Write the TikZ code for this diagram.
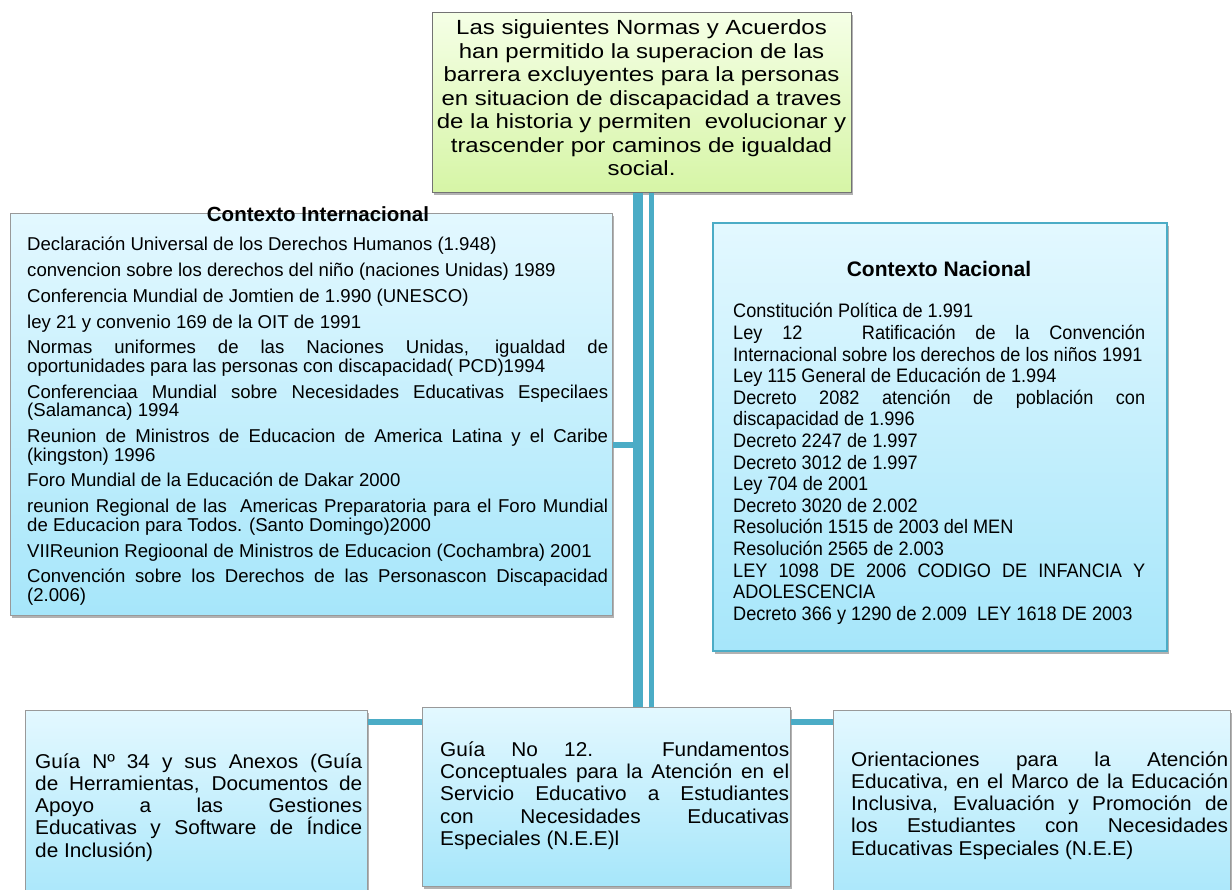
\documentclass[tikz,border=0pt]{standalone}
\usepackage{fontspec}
\setmainfont{Liberation Sans}
\newfontfamily\topfont[FakeStretch=1.17]{Liberation Sans}
\newfontfamily\natfont[FakeStretch=0.93]{Liberation Sans}
\newfontfamily\botfont[FakeStretch=1.04]{Liberation Sans}
\usetikzlibrary{shadows}
\definecolor{connc}{HTML}{4BACC6}
\definecolor{bluetop}{HTML}{E3F8FF}
\definecolor{bluebot}{HTML}{A6E6FA}
\definecolor{greentop}{HTML}{F5FFE6}
\definecolor{greenbot}{HTML}{D6F5A6}
\begin{document}
\begin{tikzpicture}[x=1pt,y=-1pt,
  boxbase/.style={anchor=north west, inner sep=0pt, line width=0.9pt,
    drop shadow={shadow xshift=2pt, shadow yshift=-3pt, opacity=0.3, fill=black}},
  bluebox/.style={boxbase, draw=black!40, top color=bluetop, bottom color=bluebot},
  greenbox/.style={boxbase, draw=black!55, top color=greentop, bottom color=greenbot},
  txt/.style={anchor=base west, inner sep=0pt},
  thickconn/.style={draw=connc, line width=10pt},
  thinconn/.style={draw=connc, line width=5pt},
  hconn/.style={draw=connc, line width=6pt}]
\useasboundingbox (0,0) rectangle (1232,890);
\tolerance=9999 \hyphenpenalty=10000

% boxes
\node[greenbox, minimum width=419pt, minimum height=180pt] (top) at (432,12) {};
\node[bluebox, minimum width=602pt, minimum height=402pt] (lbox) at (10,213) {};
\node[bluebox, draw=connc, line width=1.6pt, minimum width=454pt, minimum height=428pt] (rbox) at (712,222) {};
\node[bluebox, minimum width=342pt, minimum height=200pt] (bl) at (25,710) {};
\node[bluebox, minimum width=368pt, minimum height=179pt] (bm) at (422,707) {};
\node[bluebox, minimum width=397pt, minimum height=200pt] (br) at (833,710) {};

% connectors
\coordinate (hl) at (0,445);
\coordinate (hb) at (0,722);
\coordinate (vthick) at ([xshift=-3.5pt]top.south);
\coordinate (vthin) at ([xshift=10pt]top.south);
\draw[thickconn] (vthick) -- (vthick |- bm.north);
\draw[thinconn] (vthin) -- (vthin |- bm.north);
\draw[hconn] (lbox.east |- hl) -- ([xshift=-5pt]vthick |- hl);
\draw[hconn] (bl.east |- hb) -- (bm.west |- hb);
\draw[hconn] (bm.east |- hb) -- (br.west |- hb);

% texts
\node[txt, anchor=base] (toptext) at (641.5,35) {\parbox[t]{420pt}{\centering\topfont\fontsize{20.5}{23.5}\selectfont
Las siguientes Normas y Acuerdos\\
han permitido la superacion de las\\
barrera excluyentes para la personas\\
en situacion de discapacidad a traves\\
de la historia y permiten\ \ evolucionar y\\
trascender por caminos de igualdad\\
social.}};

\node[txt, anchor=base] (ltitle) at (318,222) {\fontsize{20.5}{22}\selectfont\bfseries Contexto Internacional};

\node[txt] (ltext) at (27,251) {\parbox[t]{581pt}{\fontsize{18.6}{18.7}\selectfont\setlength{\parskip}{7pt}%
Declaración Universal de los Derechos Humanos (1.948)\par
convencion sobre los derechos del niño (naciones Unidas) 1989\par
Conferencia Mundial de Jomtien de 1.990 (UNESCO)\par
ley 21 y convenio 169 de la OIT de 1991\par
Normas uniformes de las Naciones Unidas, igualdad de\linebreak oportunidades para las personas con discapacidad( PCD)1994\par
Conferenciaa Mundial sobre Necesidades Educativas Especilaes\linebreak (Salamanca) 1994\par
Reunion de Ministros de Educacion de America Latina y el Caribe\linebreak (kingston) 1996\par
Foro Mundial de la Educación de Dakar 2000\par
reunion Regional de las\ \ Americas Preparatoria para el Foro Mundial\linebreak de Educacion para Todos. (Santo Domingo)2000\par
VIIReunion Regioonal de Ministros de Educacion (Cochambra) 2001\par
Convención sobre los Derechos de las Personascon Discapacidad\linebreak (2.006)}};

\node[txt, anchor=base] (rtitle) at (939,277) {\fontsize{21}{22}\selectfont\bfseries Contexto Nacional};

\node[txt] (rtext) at (733,318) {\parbox[t]{412pt}{\natfont\fontsize{19.5}{21.6}\selectfont
Constitución Política de 1.991\par
Ley 12\ \ \ Ratificación de la Convención\linebreak Internacional sobre los derechos de los niños 1991\par
Ley 115 General de Educación de 1.994\par
Decreto 2082 atención de población con\linebreak discapacidad de 1.996\par
Decreto 2247 de 1.997\par
Decreto 3012 de 1.997\par
Ley 704 de 2001\par
Decreto 3020 de 2.002\par
Resolución 1515 de 2003 del MEN\par
Resolución 2565 de 2.003\par
LEY 1098 DE 2006 CODIGO DE INFANCIA Y\linebreak ADOLESCENCIA\par
Decreto 366 y 1290 de 2.009\ \ LEY 1618 DE 2003}};

\node[txt] (bltext) at (35,768) {\parbox[t]{327pt}{\botfont\fontsize{20}{22.3}\selectfont
Guía Nº 34 y sus Anexos (Guía\linebreak de Herramientas, Documentos de\linebreak Apoyo a las Gestiones\linebreak Educativas y Software de Índice\linebreak de Inclusión)}};

\node[txt] (bmtext) at (440,756) {\parbox[t]{349pt}{\botfont\fontsize{20}{22.4}\selectfont
Guía No 12. Fundamentos\linebreak Conceptuales para la Atención en el\linebreak Servicio Educativo a Estudiantes\linebreak con Necesidades Educativas\linebreak Especiales (N.E.E)l}};

\node[txt] (brtext) at (851,766) {\parbox[t]{377pt}{\botfont\fontsize{20}{22.3}\selectfont
Orientaciones para la Atención\linebreak Educativa, en el Marco de la Educación\linebreak Inclusiva, Evaluación y Promoción de\linebreak los Estudiantes con Necesidades\linebreak Educativas Especiales (N.E.E)}};
\end{tikzpicture}
\end{document}
